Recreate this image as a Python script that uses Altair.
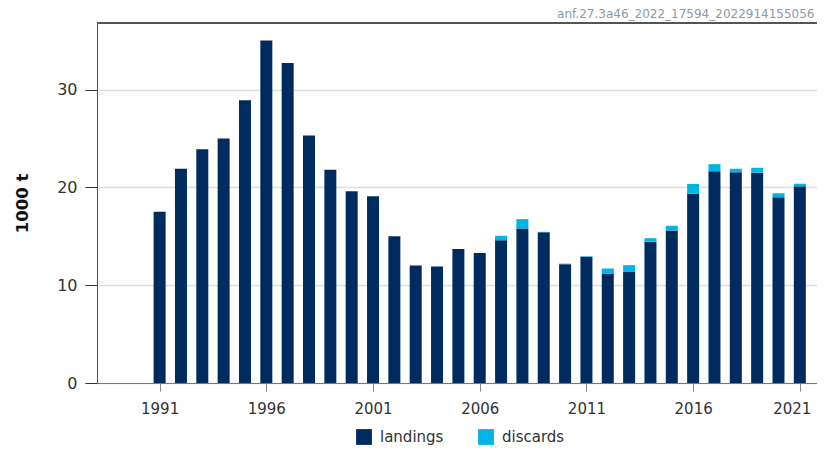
import altair as alt
import pandas as pd

years = list(range(1991, 2022))
landings = [17.5, 21.9, 23.9, 25.0, 28.9, 35.0, 32.7, 25.3, 21.8, 19.6,
            19.1, 15.0, 12.0, 11.9, 13.7, 13.3, 14.6, 15.8, 15.4, 12.15,
            12.9, 11.2, 11.4, 14.45, 15.6, 19.35, 21.65, 21.55, 21.5, 19.0, 20.1]
discards = [0, 0, 0, 0, 0, 0, 0, 0, 0, 0,
            0, 0, 0, 0, 0, 0, 0.45, 0.95, 0.05, 0.05,
            0.05, 0.5, 0.65, 0.35, 0.47, 1.0, 0.72, 0.35, 0.5, 0.4, 0.27]
series = ["landings", "discards"]
colors = ["#002b5f", "#00b5e2"]
x_ticks = [1991, 1996, 2001, 2006, 2011, 2016, 2021]
y_ticks = [0, 10, 20, 30]
title_text = "anf.27.3a46_2022_17594_2022914155056"

rows = []
for y, l, d in zip(years, landings, discards):
    rows.append({"year": y, "type": "landings", "value": l, "ord": 0})
    rows.append({"year": y, "type": "discards", "value": d, "ord": 1})
df = pd.DataFrame(rows)

W, H = 720, 360
FONT = "DejaVu Sans"

bars = alt.Chart(df).mark_bar(size=12).encode(
    x=alt.X("year:Q",
            scale=alt.Scale(domain=[1988.3, 2021.57], nice=False, zero=False),
            axis=alt.Axis(values=x_ticks, format="d", grid=False, title=None,
                          labelFontSize=15, labelColor="#333", labelFont=FONT,
                          tickSize=8, tickColor="#888", domainColor="#777",
                          labelPadding=10, labelFlush=False,
                          labelOffset={"condition": {"test": "datum.value == 2021", "value": -8},
                                       "value": 0})),
    y=alt.Y("value:Q", stack="zero",
            scale=alt.Scale(domain=[0, 36.8], nice=False),
            axis=alt.Axis(values=y_ticks, grid=True, gridColor="#dddddd", gridWidth=1.5,
                          title="1000 t", titleFontSize=16.5, titleFontWeight="bold",
                          titleColor="#111", titleFont=FONT, titlePadding=26,
                          labelFontSize=16, labelColor="#333", labelFont=FONT,
                          tickSize=12, tickColor="#333", domainColor="#555",
                          labelPadding=8)),
    color=alt.Color("type:N", scale=alt.Scale(domain=series, range=colors),
                    legend=alt.Legend(title=None, orient="none", direction="horizontal",
                                      legendX=259, legendY=406, symbolType="square",
                                      symbolSize=250, symbolStrokeWidth=0,
                                      labelFontSize=15, labelFont=FONT, labelColor="#333",
                                      labelOffset=8, columnPadding=34)),
    order=alt.Order("ord:Q"),
)

top_line = alt.Chart(df).mark_rule(color="#555", strokeWidth=1).encode(
    x=alt.value(0), x2=alt.value(W), y=alt.value(0)
)

chart = alt.layer(bars, top_line).properties(
    width=W, height=H,
    title=alt.TitleParams(title_text, anchor="end", fontSize=12, fontWeight="normal",
                          color="#8a9aa8", font=FONT, offset=2, dx=-3),
    autosize=alt.AutoSizeParams(type="none"),
    padding={"left": 89, "top": 15, "right": 0, "bottom": 62},
).configure_view(stroke=None)

chart.save("out.html", embed_options={"renderer": "svg", "actions": False})
